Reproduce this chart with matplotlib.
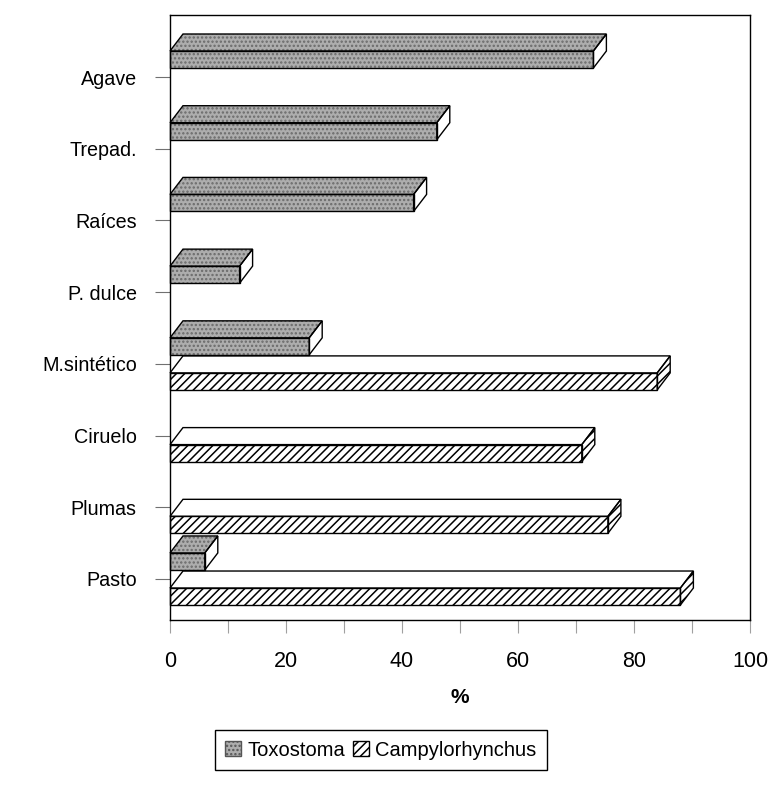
import numpy as np
import matplotlib.pyplot as plt
from matplotlib.patches import Polygon, Patch

plt.rcParams['font.family'] = ['Liberation Sans', 'DejaVu Sans']
plt.rcParams['hatch.linewidth'] = 1.1

# datos (% por material del nido)
categorias = ['Pasto', 'Plumas', 'Ciruelo', 'M.sintético', 'P. dulce',
              'Raíces', 'Trepad.', 'Agave']
toxostoma = [6, 0, 0, 24, 12, 42, 46, 73]
campylorhynchus = [88, 75.5, 71, 84, 0, 0, 0, 0]
xticks = [0, 20, 40, 60, 80, 100]

# geometria de las barras "3D"
h = 0.237      # alto de la cara frontal
gap = 0.126    # separacion de la barra respecto al tick
dx = 2.24      # profundidad en x (%)
dy = 0.237     # profundidad en y

gris = '#adadad'


def barra3d(ax, valor, y0, colores, hatches, hcolor):
    if valor <= 0:
        return
    caras = [
        [(0, y0), (valor, y0), (valor, y0 + h), (0, y0 + h)],
        [(0, y0 + h), (valor, y0 + h), (valor + dx, y0 + h + dy), (dx, y0 + h + dy)],
        [(valor, y0), (valor + dx, y0 + dy), (valor + dx, y0 + h + dy), (valor, y0 + h)],
    ]
    for cara, col, hat in zip(caras, colores, hatches):
        ax.add_patch(Polygon(cara, closed=True, facecolor=col, edgecolor='none',
                             lw=0, clip_on=False, zorder=2))
        if hat:
            ax.add_patch(Polygon(cara, closed=True, facecolor='none', edgecolor=hcolor,
                                 hatch=hat, lw=0, clip_on=False, zorder=3))
        ax.add_patch(Polygon(cara, closed=True, facecolor='none', edgecolor='black',
                             lw=1.0, clip_on=False, zorder=4))


fig = plt.figure(figsize=(7.79, 7.92), dpi=100)
ax = fig.add_axes([170 / 779, 1 - 620 / 792, 580 / 779, 605 / 792])

y = np.arange(len(categorias))
for i in range(len(categorias)):
    # Toxostoma: frente y tapa grises, lado blanco
    barra3d(ax, toxostoma[i], y[i] + gap, (gris, gris, 'white'),
            ('....', '....', None), '#6a6a6a')
    # Campylorhynchus: frente y lado rayados, tapa blanca
    barra3d(ax, campylorhynchus[i], y[i] - gap - h, ('white', 'white', 'white'),
            ('////', None, '////'), 'black')

ax.set_xlim(0, 100)
ax.set_ylim(-0.572, 7.865)
ax.set_xticks(xticks)
ax.set_xticks(np.arange(0, 101, 10), minor=True)
ax.set_yticks(y)
ax.set_yticklabels(categorias)
ax.tick_params(axis='x', which='both', direction='out', length=9, width=0.8,
               color='#a0a0a0', pad=13, labelsize=15.5)
ax.tick_params(axis='y', direction='out', length=11, width=0.8, color='#707070',
               pad=13, labelsize=14.2)
for s in ax.spines.values():
    s.set_linewidth(1.0)
    s.set_color('black')
ax.set_xlabel('%', fontsize=15, fontweight='bold', labelpad=12)

leyenda = [Patch(facecolor=gris, edgecolor='#555555', hatch='....', label='Toxostoma'),
           Patch(facecolor='white', edgecolor='black', hatch='////', label='Campylorhynchus')]
fig.legend(handles=leyenda, loc='center', bbox_to_anchor=(381 / 779, 1 - 750 / 792),
           ncol=2, fontsize=14.5, frameon=True, fancybox=False, edgecolor='black',
           framealpha=1, handlelength=0.8, handleheight=0.8, handletextpad=0.3,
           columnspacing=0.4, borderpad=0.5)

fig.savefig('out.png', dpi=100)
